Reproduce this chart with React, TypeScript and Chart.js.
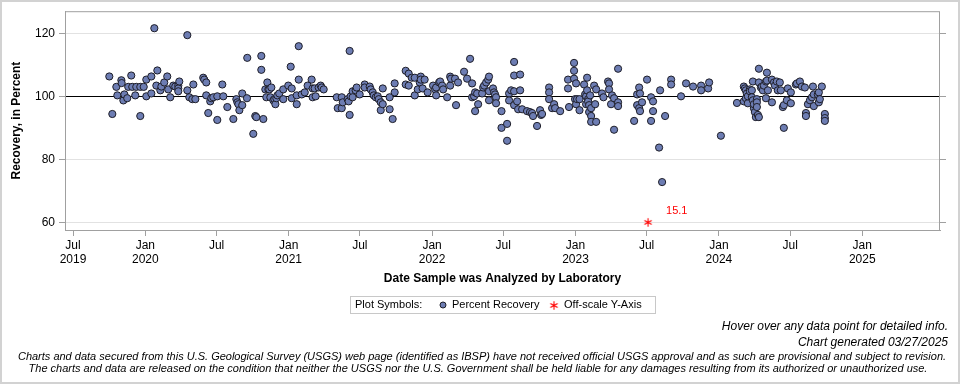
import React, { useEffect, useRef } from "react";
import { Chart, registerables } from "chart.js";

Chart.register(...registerables);

const FONT = "'Liberation Sans', Arial, Helvetica, sans-serif";

// [decimal year of analysis, percent recovery]
const samples2019: [number, number][] = [
  [2019.749, 106.3], [2019.77, 94.4], [2019.798, 103.0], [2019.805, 100.3], [2019.833, 105.1],
  [2019.835, 104.2], [2019.847, 98.7], [2019.854, 100.6], [2019.874, 99.4], [2019.881, 103.0],
  [2019.902, 106.6], [2019.909, 103.0], [2019.93, 100.3], [2019.937, 103.0], [2019.965, 103.0],
  [2019.965, 93.75], [2019.989, 103.0],
];

const samples2020: [number, number][] = [
  [2020.007, 105.3], [2020.007, 100.0], [2020.042, 106.3], [2020.042, 100.9], [2020.063, 121.6],
  [2020.077, 103.4], [2020.084, 108.2], [2020.105, 101.9], [2020.112, 103.1], [2020.132, 104.4],
  [2020.153, 106.3], [2020.16, 102.2], [2020.174, 99.7], [2020.195, 103.4], [2020.209, 103.1],
  [2020.23, 103.4], [2020.23, 102.5], [2020.23, 101.6], [2020.237, 104.7], [2020.293, 119.4],
  [2020.293, 101.9], [2020.307, 99.7], [2020.328, 99.1], [2020.335, 103.75], [2020.349, 99.1],
  [2020.404, 105.9], [2020.411, 105.3], [2020.425, 104.4], [2020.425, 100.3], [2020.439, 94.7],
  [2020.453, 98.4], [2020.46, 99.4], [2020.474, 99.7], [2020.502, 100.0], [2020.502, 92.5],
  [2020.537, 103.75], [2020.544, 100.0], [2020.572, 96.6], [2020.614, 92.8], [2020.635, 99.1],
  [2020.642, 98.1], [2020.649, 97.5], [2020.656, 95.6], [2020.676, 100.9], [2020.676, 97.2],
  [2020.709, 99.4], [2020.711, 112.2], [2020.753, 88.1], [2020.767, 93.75], [2020.774, 93.4],
  [2020.809, 112.8], [2020.809, 108.4], [2020.823, 92.8], [2020.837, 102.2], [2020.844, 99.7],
  [2020.851, 104.4], [2020.858, 102.2], [2020.865, 102.2], [2020.872, 99.7], [2020.879, 102.8],
  [2020.893, 98.7], [2020.9, 99.1], [2020.907, 97.5], [2020.914, 99.4], [2020.921, 100.3],
  [2020.934, 100.9], [2020.962, 102.2], [2020.962, 99.1], [2020.997, 103.4],
];

const samples2021: [number, number][] = [
  [2021.014, 109.4], [2021.021, 102.5], [2021.021, 99.4], [2021.056, 100.3], [2021.056, 97.5],
  [2021.07, 115.9], [2021.07, 105.3], [2021.091, 100.6], [2021.112, 101.25], [2021.132, 103.4],
  [2021.16, 105.3], [2021.167, 102.5], [2021.167, 99.7], [2021.181, 102.5], [2021.188, 100.0],
  [2021.209, 102.8], [2021.223, 103.4], [2021.23, 102.8], [2021.244, 102.2], [2021.335, 99.7],
  [2021.342, 96.25], [2021.37, 99.7], [2021.37, 96.25], [2021.377, 98.1], [2021.411, 99.1],
  [2021.418, 98.4], [2021.425, 114.4], [2021.425, 94.1], [2021.432, 100.0], [2021.446, 101.6],
  [2021.446, 99.7], [2021.467, 101.9], [2021.474, 102.8], [2021.495, 100.6], [2021.53, 103.75],
  [2021.53, 102.8], [2021.565, 103.1], [2021.572, 102.2], [2021.586, 101.25], [2021.593, 100.3],
  [2021.607, 99.7], [2021.621, 100.0], [2021.628, 99.1], [2021.642, 98.1], [2021.642, 95.6],
  [2021.656, 97.5], [2021.656, 102.5], [2021.704, 99.7], [2021.704, 95.9], [2021.725, 92.8],
  [2021.739, 104.1], [2021.739, 101.25], [2021.816, 108.1], [2021.816, 103.75], [2021.837, 107.2],
  [2021.837, 103.4], [2021.858, 105.9], [2021.879, 105.9], [2021.879, 100.3], [2021.9, 102.2],
  [2021.914, 104.4], [2021.921, 106.25], [2021.921, 105.3], [2021.934, 102.5], [2021.948, 105.3],
  [2021.969, 101.25],
];

const samples2022: [number, number][] = [
  [2022.007, 103.4], [2022.021, 102.2], [2022.028, 100.3], [2022.028, 102.8], [2022.049, 104.4],
  [2022.056, 104.7], [2022.07, 103.4], [2022.077, 102.2], [2022.105, 99.7], [2022.126, 106.25],
  [2022.126, 103.4], [2022.132, 105.6], [2022.16, 105.6], [2022.167, 97.2], [2022.181, 104.4],
  [2022.223, 107.8], [2022.244, 105.6], [2022.265, 111.9], [2022.279, 104.1], [2022.279, 99.7],
  [2022.293, 100.0], [2022.3, 101.25], [2022.3, 95.3], [2022.314, 100.9], [2022.321, 97.5],
  [2022.349, 100.9], [2022.356, 102.8], [2022.363, 103.4], [2022.377, 104.4], [2022.391, 105.3],
  [2022.397, 106.25], [2022.397, 101.6], [2022.397, 98.75], [2022.425, 102.5], [2022.432, 101.25],
  [2022.439, 100.6], [2022.446, 99.7], [2022.446, 97.8], [2022.484, 95.3], [2022.484, 90.0],
  [2022.523, 91.25], [2022.523, 85.9], [2022.537, 100.9], [2022.537, 98.7], [2022.551, 101.9],
  [2022.572, 110.9], [2022.572, 106.6], [2022.572, 101.6], [2022.572, 97.2], [2022.593, 98.4],
  [2022.6, 95.9], [2022.614, 106.9], [2022.614, 101.9], [2022.628, 95.9], [2022.662, 95.3],
  [2022.683, 95.0], [2022.697, 94.7], [2022.704, 93.75], [2022.732, 90.6], [2022.753, 95.6],
  [2022.76, 94.1], [2022.767, 94.4], [2022.816, 102.8], [2022.816, 101.25], [2022.816, 99.1],
  [2022.837, 96.25], [2022.851, 97.5], [2022.858, 96.25], [2022.893, 95.3], [2022.948, 105.3],
  [2022.948, 102.5], [2022.955, 96.6], [2022.99, 110.6], [2022.99, 108.1], [2022.99, 105.6],
  [2022.997, 99.1],
];

const samples2023: [number, number][] = [
  [2023.004, 104.1], [2023.004, 97.5], [2023.011, 99.1], [2023.028, 99.1], [2023.028, 95.6],
  [2023.06, 103.75], [2023.067, 100.6], [2023.074, 97.5], [2023.074, 100.0], [2023.081, 105.9],
  [2023.081, 101.9], [2023.088, 99.1], [2023.088, 98.4], [2023.095, 95.0], [2023.095, 97.2],
  [2023.102, 100.3], [2023.109, 96.25], [2023.109, 93.75], [2023.109, 91.9], [2023.13, 103.4],
  [2023.137, 97.5], [2023.144, 102.2], [2023.144, 91.9], [2023.185, 100.9], [2023.195, 99.7],
  [2023.227, 104.7], [2023.234, 104.1], [2023.234, 102.2], [2023.248, 97.5], [2023.255, 100.3],
  [2023.269, 89.4], [2023.269, 99.4], [2023.297, 108.75], [2023.297, 98.1], [2023.297, 96.9],
  [2023.409, 92.2], [2023.43, 100.6], [2023.43, 97.2], [2023.444, 102.8], [2023.444, 96.25],
  [2023.45, 100.9], [2023.45, 95.3], [2023.464, 98.1], [2023.499, 105.3], [2023.527, 99.7],
  [2023.527, 92.2], [2023.541, 98.4], [2023.541, 95.3], [2023.583, 83.75], [2023.59, 101.9],
  [2023.604, 72.8], [2023.625, 93.75], [2023.667, 105.3], [2023.667, 103.75], [2023.736, 100.0],
  [2023.771, 104.1], [2023.82, 103.1], [2023.876, 103.4], [2023.876, 101.9], [2023.925, 102.5],
  [2023.932, 104.4],
];

const samples2024: [number, number][] = [
  [2024.014, 87.5], [2024.126, 97.9], [2024.174, 103.1], [2024.174, 98.4], [2024.181, 102.5],
  [2024.188, 101.9], [2024.188, 99.4], [2024.195, 100.9], [2024.202, 97.8], [2024.202, 100.0],
  [2024.216, 102.2], [2024.216, 101.6], [2024.23, 101.9], [2024.23, 99.7], [2024.237, 104.7],
  [2024.237, 98.75], [2024.244, 96.25], [2024.244, 97.5], [2024.251, 95.0], [2024.258, 93.4],
  [2024.265, 99.1], [2024.265, 98.1], [2024.265, 96.6], [2024.272, 94.1], [2024.279, 104.4],
  [2024.279, 93.4], [2024.279, 108.75], [2024.293, 102.8], [2024.3, 103.1], [2024.307, 101.9],
  [2024.314, 103.4], [2024.328, 99.4], [2024.328, 104.7], [2024.335, 107.5], [2024.335, 105.0],
  [2024.342, 101.9], [2024.37, 105.3], [2024.37, 98.1], [2024.384, 104.4], [2024.391, 103.4],
  [2024.404, 104.7], [2024.411, 101.9], [2024.425, 104.4], [2024.432, 101.9], [2024.446, 96.6],
  [2024.453, 97.2], [2024.453, 90.0], [2024.474, 98.75], [2024.481, 102.5], [2024.502, 101.25],
  [2024.502, 97.8], [2024.537, 103.75], [2024.544, 104.1], [2024.565, 104.7], [2024.579, 103.1],
  [2024.6, 102.8], [2024.607, 94.7], [2024.607, 93.75], [2024.621, 97.5], [2024.635, 98.75],
  [2024.649, 99.7], [2024.656, 103.1], [2024.662, 100.6], [2024.662, 96.9], [2024.69, 100.6],
  [2024.697, 101.25], [2024.697, 98.1], [2024.704, 99.1], [2024.718, 103.1], [2024.739, 94.4],
  [2024.739, 93.1], [2024.739, 92.2],
];

// samples whose recovery falls below the plotted range: [decimal year, recovery]
const offScaleSamples: [number, number][] = [[2023.506, 15.1]];
const OFFSCALE_ROW = 60;

const REFERENCE_RECOVERY = 100;
const Y_MIN = 57.6;
const Y_MAX = 127.0;
const yTickValues = [60, 80, 100, 120];

const X_MIN = 2019.44;
const X_MAX = 2025.542;
const xTickDates = [
  "2019-07-01", "2020-01-01", "2020-07-01", "2021-01-01", "2021-07-01", "2022-01-01",
  "2022-07-01", "2023-01-01", "2023-07-01", "2024-01-01", "2024-07-01", "2025-01-01",
];
const xTickLabels: string[][] = [
  ["Jul", "2019"], ["Jan", "2020"], ["Jul"], ["Jan", "2021"], ["Jul"], ["Jan", "2022"],
  ["Jul"], ["Jan", "2023"], ["Jul"], ["Jan", "2024"], ["Jul"], ["Jan", "2025"],
];

const Y_TITLE = "Recovery, in Percent";
const X_TITLE = "Date Sample was Analyzed by Laboratory";
const LEGEND_TITLE = "Plot Symbols:";
const LEGEND_SERIES = "Percent Recovery";
const LEGEND_OFFSCALE = "Off-scale Y-Axis";
const NOTE_HOVER = "Hover over any data point for detailed info.";
const NOTE_GENERATED = "Chart generated 03/27/2025";
const DISCLAIMER_1 =
  "Charts and data secured from this U.S. Geological Survey (USGS) web page (identified as IBSP) have not received official USGS approval and as such are provisional and subject to revision.";
const DISCLAIMER_2 =
  "The charts and data are released on the condition that neither the USGS nor the U.S. Government shall be held liable for any damages resulting from its authorized or unauthorized use.";

const POINT_FILL = "#6D7DB3";
const POINT_EDGE = "#1E1E28";
const OFFSCALE_COLOR = "#FF0000";

function decimalYear(iso: string): number {
  const [y, m, d] = iso.split("-").map(Number);
  const start = Date.UTC(y, 0, 1);
  const end = Date.UTC(y + 1, 0, 1);
  return y + (Date.UTC(y, m - 1, d) - start) / (end - start);
}

function drawAsterisk(g: CanvasRenderingContext2D, x: number, y: number, r: number) {
  g.save();
  g.strokeStyle = OFFSCALE_COLOR;
  g.lineWidth = 1.1;
  g.beginPath();
  for (const a of [90, 30, 150]) {
    const rad = (a * Math.PI) / 180;
    const dx = Math.cos(rad) * r;
    const dy = Math.sin(rad) * r;
    g.moveTo(x - dx, y - dy);
    g.lineTo(x + dx, y + dy);
  }
  g.stroke();
  g.restore();
}

function makeAsteriskImage(): HTMLCanvasElement {
  const c = document.createElement("canvas");
  c.width = 11;
  c.height = 11;
  const g = c.getContext("2d")!;
  drawAsterisk(g, 5.5, 5.5, 4.2);
  return c;
}

export default function App() {
  const canvasRef = useRef<HTMLCanvasElement | null>(null);

  useEffect(() => {
    document.body.style.margin = "0";
    const canvas = canvasRef.current;
    if (!canvas) return;

    const allSamples = [
      ...samples2019, ...samples2020, ...samples2021,
      ...samples2022, ...samples2023, ...samples2024,
    ];
    const points = allSamples.map(([x, y]) => ({ x, y }));
    const offPoints = offScaleSamples.map(([x, v]) => ({ x, y: OFFSCALE_ROW, actual: v }));
    const xTickValues = xTickDates.map(decimalYear);
    const asteriskImg = makeAsteriskImage();

    const decor = {
      id: "decor",
      beforeDraw(chart: any) {
        const { ctx } = chart;
        ctx.save();
        ctx.fillStyle = "#ffffff";
        ctx.fillRect(0, 0, chart.width, chart.height);
        ctx.restore();
      },
      beforeDatasetsDraw(chart: any) {
        const { ctx, chartArea } = chart;
        const y = Math.round(chart.scales.y.getPixelForValue(REFERENCE_RECOVERY)) + 0.5;
        ctx.save();
        ctx.strokeStyle = "#000000";
        ctx.lineWidth = 1.2;
        ctx.beginPath();
        ctx.moveTo(chartArea.left, y);
        ctx.lineTo(chartArea.right, y);
        ctx.stroke();
        ctx.restore();
      },
      afterDatasetsDraw(chart: any) {
        const { ctx } = chart;
        const meta = chart.getDatasetMeta(1);
        ctx.save();
        ctx.fillStyle = OFFSCALE_COLOR;
        ctx.font = `11px ${FONT}`;
        ctx.textAlign = "left";
        ctx.textBaseline = "middle";
        meta.data.forEach((el: any, i: number) => {
          ctx.fillText(String(offPoints[i].actual), el.x + 18, el.y - 11);
        });
        ctx.restore();
      },
      afterDraw(chart: any) {
        const { ctx, chartArea } = chart;
        const { left, right, top, bottom } = chartArea;
        ctx.save();
        // plot frame
        ctx.strokeStyle = "#A0A0A0";
        ctx.lineWidth = 1;
        ctx.strokeRect(left + 0.5, top + 0.5, right - left - 1, bottom - top);
        // right-side tick marks
        ctx.beginPath();
        yTickValues.forEach((v) => {
          const y = Math.round(chart.scales.y.getPixelForValue(v)) + 0.5;
          ctx.moveTo(right, y);
          ctx.lineTo(right + 6, y);
        });
        ctx.stroke();

        // axis titles
        ctx.fillStyle = "#000000";
        ctx.font = `bold 12px ${FONT}`;
        ctx.textAlign = "center";
        ctx.textBaseline = "middle";
        ctx.save();
        ctx.translate(17, (top + bottom) / 2);
        ctx.rotate(-Math.PI / 2);
        ctx.fillText(Y_TITLE, 0, 0);
        ctx.restore();
        ctx.fillText(X_TITLE, (left + right) / 2, 279);

        // legend box
        ctx.strokeStyle = "#C8C8C8";
        ctx.strokeRect(350.5, 296.5, 305, 17);
        ctx.font = `11px ${FONT}`;
        ctx.textAlign = "left";
        ctx.fillStyle = "#000000";
        ctx.fillText(LEGEND_TITLE, 355, 305);
        ctx.beginPath();
        ctx.arc(443, 305, 3, 0, Math.PI * 2);
        ctx.fillStyle = POINT_FILL;
        ctx.fill();
        ctx.strokeStyle = POINT_EDGE;
        ctx.lineWidth = 1;
        ctx.stroke();
        ctx.fillStyle = "#000000";
        ctx.fillText(LEGEND_SERIES, 452, 305);
        ctx.drawImage(asteriskImg, 554 - 5.5, 305.5 - 5.5);
        ctx.fillText(LEGEND_OFFSCALE, 564, 305);

        // notes
        ctx.font = `italic 12px ${FONT}`;
        ctx.textAlign = "right";
        ctx.fillText(NOTE_HOVER, 948, 327);
        ctx.fillText(NOTE_GENERATED, 948, 343);
        ctx.font = `italic 11px ${FONT}`;
        ctx.textAlign = "center";
        ctx.fillText(DISCLAIMER_1, 482, 357);
        ctx.fillText(DISCLAIMER_2, 478, 369);

        // outer frame
        ctx.strokeStyle = "#D2D2D2";
        ctx.lineWidth = 2;
        ctx.strokeRect(1, 1, chart.width - 2, chart.height - 2);
        ctx.restore();
      },
    };

    const chart = new Chart(canvas, {
      type: "scatter",
      data: {
        datasets: [
          {
            label: LEGEND_SERIES,
            data: points,
            backgroundColor: POINT_FILL,
            borderColor: POINT_EDGE,
            borderWidth: 1,
            pointRadius: 3.6,
            pointHoverRadius: 3.6,
          },
          {
            label: LEGEND_OFFSCALE,
            data: offPoints,
            pointStyle: asteriskImg as any,
            pointRadius: 5,
            pointHoverRadius: 5,
          },
        ],
      },
      options: {
        responsive: false,
        animation: false,
        devicePixelRatio: 1,
        events: [],
        layout: { padding: { left: 0, right: 20, top: 9, bottom: 114 } },
        plugins: {
          legend: { display: false },
          title: { display: false },
          tooltip: { enabled: false },
        },
        scales: {
          x: {
            type: "linear",
            min: X_MIN,
            max: X_MAX,
            afterBuildTicks: (scale: any) => {
              scale.ticks = xTickValues.map((value) => ({ value }));
            },
            afterFit: (scale: any) => {
              scale.height = 40;
            },
            grid: {
              drawOnChartArea: false,
              drawTicks: true,
              tickLength: 6,
              tickColor: "#A0A0A0",
            },
            border: { display: true, color: "#A0A0A0" },
            ticks: {
              autoSkip: false,
              maxRotation: 0,
              minRotation: 0,
              padding: 2,
              color: "#000000",
              font: { family: FONT, size: 12 },
              callback: (_v: any, i: number) => xTickLabels[i],
            },
          },
          y: {
            type: "linear",
            min: Y_MIN,
            max: Y_MAX,
            afterBuildTicks: (scale: any) => {
              scale.ticks = yTickValues.map((value) => ({ value }));
            },
            afterFit: (scale: any) => {
              scale.width = 65;
            },
            grid: {
              color: "#E2E2E2",
              drawTicks: true,
              tickLength: 6,
              tickColor: "#A0A0A0",
            },
            border: { display: true, color: "#A0A0A0" },
            ticks: {
              padding: 4,
              color: "#000000",
              font: { family: FONT, size: 12 },
              callback: (v: any) => String(v),
            },
          },
        },
      },
      plugins: [decor],
    });

    return () => chart.destroy();
  }, []);

  return (
    <div style={{ width: 960, height: 384 }}>
      <canvas ref={canvasRef} width={960} height={384} style={{ display: "block" }} />
    </div>
  );
}
